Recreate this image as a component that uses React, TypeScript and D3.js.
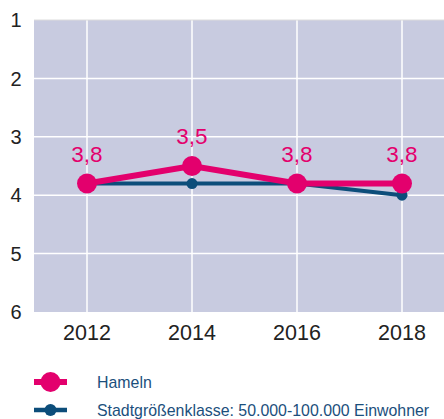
import { useEffect, useRef } from 'react';
import * as d3 from 'd3';

const years = [2012, 2014, 2016, 2018];
const hameln = [3.8, 3.5, 3.8, 3.8];
const klasse = [3.8, 3.8, 3.8, 4.0];
const yTicks = [1, 2, 3, 4, 5, 6];
const seriesNames = ['Hameln', 'Stadtgrößenklasse: 50.000-100.000 Einwohner'];

export default function App() {
  const svgRef = useRef<SVGSVGElement>(null);

  useEffect(() => {
    if (!svgRef.current) return;
    const width = 444;
    const height = 419;
    const plot = { left: 34, top: 20, right: 444, bottom: 312 };
    const pink = '#e3006d';
    const blue = '#0c4d7a';
    const font = '"Liberation Sans", Arial, sans-serif';

    const svg = d3.select(svgRef.current);
    svg.selectAll('*').remove();
    svg.attr('width', width).attr('height', height);

    const x = d3.scaleLinear().domain([2012, 2018]).range([87, 402]);
    const y = d3.scaleLinear().domain([1, 6]).range([plot.top, plot.bottom]);

    svg.append('rect')
      .attr('x', plot.left).attr('y', plot.top)
      .attr('width', plot.right - plot.left).attr('height', plot.bottom - plot.top)
      .attr('fill', '#c8cbe0');

    // grid
    svg.selectAll('.hgrid')
      .data(yTicks.slice(1, -1))
      .enter().append('line')
      .attr('x1', plot.left).attr('x2', plot.right)
      .attr('y1', d => y(d)).attr('y2', d => y(d))
      .attr('stroke', '#fff').attr('stroke-width', 1.5);

    svg.selectAll('.vgrid')
      .data(years)
      .enter().append('line')
      .attr('x1', d => x(d)).attr('x2', d => x(d))
      .attr('y1', plot.top).attr('y2', plot.bottom)
      .attr('stroke', '#fff').attr('stroke-width', 1.5);

    svg.append('line')
      .attr('x1', plot.left).attr('x2', plot.right)
      .attr('y1', plot.top).attr('y2', plot.top)
      .attr('stroke', '#dcdcdc').attr('stroke-width', 1);

    // axis labels
    svg.selectAll('.ylab')
      .data(yTicks)
      .enter().append('text')
      .attr('x', 16).attr('y', d => y(d))
      .attr('dy', '0.36em')
      .attr('text-anchor', 'middle')
      .attr('font-family', font).attr('font-size', 20)
      .attr('fill', '#222')
      .text(d => d);

    svg.selectAll('.xlab')
      .data(years)
      .enter().append('text')
      .attr('x', d => x(d)).attr('y', 340)
      .attr('text-anchor', 'middle')
      .attr('font-family', font).attr('font-size', 21.5)
      .attr('fill', '#222')
      .text(d => d);

    const line = d3.line<number>()
      .x((_, i) => x(years[i]))
      .y(d => y(d));

    // Stadtgrößenklasse
    svg.append('path')
      .attr('d', line(klasse))
      .attr('fill', 'none').attr('stroke', blue).attr('stroke-width', 4);
    svg.selectAll('.kdot')
      .data(klasse)
      .enter().append('circle')
      .attr('cx', (_, i) => x(years[i])).attr('cy', d => y(d))
      .attr('r', 5.5).attr('fill', blue);

    // Hameln
    svg.append('path')
      .attr('d', line(hameln))
      .attr('fill', 'none').attr('stroke', pink).attr('stroke-width', 6);
    svg.selectAll('.hdot')
      .data(hameln)
      .enter().append('circle')
      .attr('cx', (_, i) => x(years[i])).attr('cy', d => y(d))
      .attr('r', 10).attr('fill', pink);

    svg.selectAll('.hval')
      .data(hameln)
      .enter().append('text')
      .attr('x', (_, i) => x(years[i])).attr('y', d => y(d) - 22)
      .attr('text-anchor', 'middle')
      .attr('font-family', font).attr('font-size', 22.5)
      .attr('fill', pink)
      .text(d => d3.format('.1f')(d).replace('.', ','));

    // legend
    const legend = [
      { name: seriesNames[0], color: pink, w: 6, r: 10, yy: 382 },
      { name: seriesNames[1], color: blue, w: 4.5, r: 6, yy: 410 },
    ];
    const lg = svg.selectAll('.leg').data(legend).enter().append('g');
    lg.append('line')
      .attr('x1', 34).attr('x2', 67)
      .attr('y1', d => d.yy).attr('y2', d => d.yy)
      .attr('stroke', d => d.color).attr('stroke-width', d => d.w);
    lg.append('circle')
      .attr('cx', 50.5).attr('cy', d => d.yy).attr('r', d => d.r)
      .attr('fill', d => d.color);
    lg.append('text')
      .attr('x', 97).attr('y', d => d.yy).attr('dy', '0.36em')
      .attr('font-family', font).attr('font-size', 15.9)
      .attr('fill', '#1b4f7c')
      .text(d => d.name);
  }, []);

  return (
    <div style={{ position: 'absolute', left: 0, top: 0 }}>
      <svg ref={svgRef} style={{ display: 'block' }} />
    </div>
  );
}
